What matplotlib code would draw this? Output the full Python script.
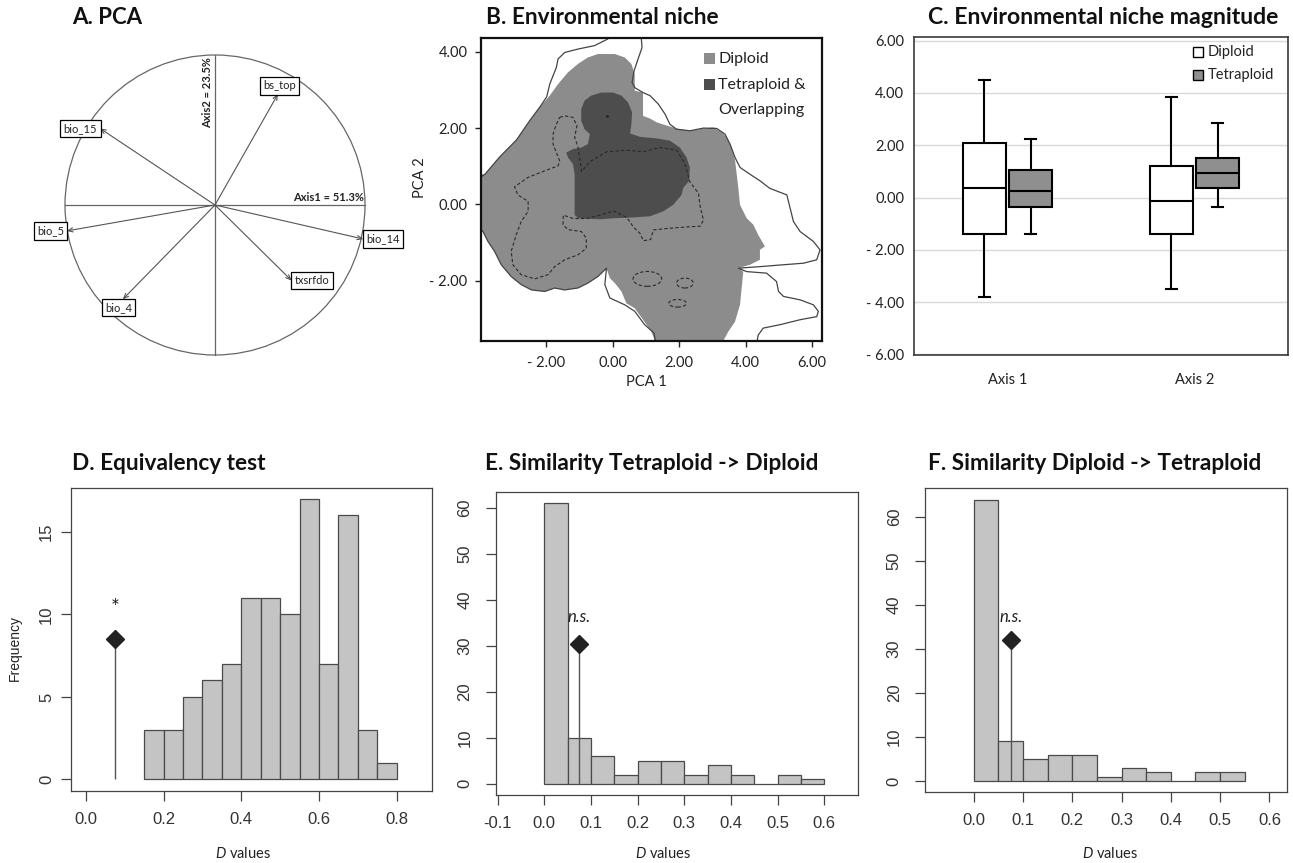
import matplotlib
matplotlib.use("Agg")
import matplotlib.pyplot as plt
from matplotlib.patches import Circle, Polygon, Ellipse, Rectangle
from matplotlib.ticker import FuncFormatter

plt.rcParams['font.family'] = ['Lato', 'DejaVu Sans']
plt.rcParams['mathtext.fontset'] = 'custom'
plt.rcParams['mathtext.it'] = 'Lato:italic'
plt.rcParams['mathtext.rm'] = 'Lato'

# ------------------------------------------------------------------ data
# A. PCA loadings (correlation circle)
pca_vars = ['bs_top', 'bio_15', 'bio_5', 'bio_4', 'txsrfdo', 'bio_14']
pca_axis1 = [0.42, -0.767, -0.989, -0.615, 0.511, 0.989]
pca_axis2 = [0.74, 0.511, -0.173, -0.629, -0.504, -0.227]
axis1_text = 'Axis1 = 51.3%'
axis2_text = 'Axis2 = 23.5%'

# B. Environmental niche (PCA space)
diploid_x = [-4.40, -3.85, -3.40, -2.90, -2.49, -2.19, -1.90, -1.65, -1.35, -1.05,
             -0.75, -0.45, 0.06, 0.36, 0.56, 0.66, 0.66, 0.91, 0.91, 1.12,
             1.32, 1.57, 1.92, 2.32, 2.73, 3.03, 3.28, 3.43, 3.58, 3.68,
             3.78, 3.83, 4.03, 4.23, 4.38, 4.58, 4.43, 4.43, 4.13, 3.78,
             3.93, 3.88, 3.83, 3.68, 3.48, 3.23, 1.24, 1.24, 1.16, 0.91,
             0.66, 0.41, 0.26, 0.06, -0.09, -0.19, -0.45, -0.75, -1.05, -1.45,
             -1.75, -2.05, -2.45, -2.76, -3.06, -3.36, -3.56, -3.76, -3.91, -4.40]
diploid_y = [0.79, 0.79, 1.25, 1.69, 2.21, 2.56, 2.85, 3.15, 3.46, 3.68,
             3.85, 3.94, 3.94, 3.85, 3.68, 3.41, 2.98, 2.93, 2.32, 2.25,
             2.15, 2.08, 1.99, 1.93, 1.99, 2.02, 1.89, 1.76, 1.49, 1.16,
             0.43, -0.01, -0.36, -0.53, -0.80, -1.10, -1.19, -1.45, -1.58, -1.67,
             -1.76, -2.19, -2.63, -3.07, -3.33, -3.73, -3.73, -3.51, -3.33, -3.02,
             -2.72, -2.59, -2.28, -2.06, -1.93, -1.67, -1.89, -2.06, -2.19, -2.24,
             -2.19, -2.28, -2.24, -2.10, -1.89, -1.58, -1.23, -0.97, -0.71, -0.71]
tetra_x = [-0.95, -0.85, -0.65, -0.35, 0.01, 0.26, 0.46, 0.58, 0.56, 0.52,
           0.82, 1.32, 1.72, 2.02, 2.22, 2.32, 2.30, 2.12, 2.07, 1.82,
           1.52, 1.12, 0.62, 0.06, -0.39, -1.04, -1.15, -1.15, -1.20, -1.35,
           -1.40, -1.20, -0.95, -0.75, -0.69, -0.85, -0.95]
tetra_y = [2.50, 2.72, 2.85, 2.93, 2.93, 2.85, 2.67, 2.41, 2.10, 1.86,
           1.77, 1.73, 1.67, 1.49, 1.23, 0.97, 0.62, 0.43, 0.25, -0.01,
           -0.18, -0.31, -0.34, -0.36, -0.39, -0.36, -0.28, 0.79, 1.06, 1.23,
           1.36, 1.45, 1.49, 1.58, 1.84, 1.97, 2.19]
contour_x = [-1.60, -1.45, -1.20, -1.08, -1.15, -1.05, -0.99, -0.94, -0.69, -0.18,
             0.42, 0.92, 1.42, 1.92, 2.17, 2.32, 2.58, 2.63, 2.73, 2.63,
             2.22, 1.62, 1.22, 1.14, 0.92, 0.82, 0.62, 0.42, 0.02, -0.39,
             -0.79, -1.19, -1.49, -1.50, -1.35, -0.95, -0.80, -0.80, -1.05, -1.45,
             -1.75, -1.95, -2.35, -2.76, -3.01, -3.06, -2.91, -2.76, -2.55, -2.55,
             -2.86, -2.96, -2.55, -2.05, -1.65, -1.60, -1.80, -1.80, -1.70, -1.60]
contour_y = [2.28, 2.32, 2.28, 2.06, 1.76, 1.51, 1.16, 0.86, 1.12, 1.38,
             1.42, 1.38, 1.49, 1.42, 1.07, 0.59, 0.29, -0.06, -0.41, -0.57,
             -0.59, -0.63, -0.67, -0.92, -0.95, -0.76, -0.59, -0.34, -0.17, -0.28,
             -0.37, -0.37, -0.28, -0.53, -0.66, -0.71, -0.88, -1.15, -1.32, -1.45,
             -1.63, -1.84, -1.95, -1.84, -1.58, -1.23, -0.80, -0.45, -0.18, 0.08,
             0.25, 0.46, 0.71, 0.88, 1.01, 1.14, 1.58, 1.84, 2.10, 2.28]
small_contour_x = [1.04, 2.17, 1.95]
small_contour_y = [-1.95, -2.06, -2.59]
small_contour_w = [0.86, 0.50, 0.53]
small_contour_h = [0.39, 0.26, 0.20]
peak_x, peak_y = [-0.19], [2.32]
outline_a_x = [1.32, 1.24, 0.96, 0.66, 0.36, -0.09, -0.24, -0.19, -0.45, -0.75,
               -1.05, -1.45, -1.75, -2.05, -2.45, -2.76, -3.06, -3.36, -3.56, -3.76,
               -3.91, -4.40, -4.40, -3.85, -3.40, -2.90, -2.49, -2.19, -1.99, -1.90,
               -1.70, -1.65, -1.45, -1.05, -0.55, -0.16, 0.12]
outline_a_y = [-3.73, -3.37, -3.15, -2.80, -2.63, -2.45, -2.10, -1.67, -1.89, -2.06,
               -2.19, -2.24, -2.19, -2.28, -2.24, -2.10, -1.89, -1.58, -1.23, -0.97,
               -0.71, -0.24, 0.46, 0.79, 1.25, 1.69, 2.21, 2.56, 2.82, 3.15,
               3.59, 3.81, 3.98, 4.07, 4.16, 4.33, 4.57]
outline_b_x = [0.86, 0.86, 0.88, 0.76, 0.64, 0.58, 0.66, 0.91, 1.12, 1.37,
               1.57, 1.72, 1.92, 2.32, 2.73, 3.13, 3.38, 3.53, 3.68, 3.83,
               4.13, 4.43, 4.73, 5.24, 5.34, 5.44, 5.64, 6.04, 6.24, 6.14,
               5.74, 5.14, 4.43, 3.78, 4.03, 4.63, 4.93, 4.99, 5.14, 5.64,
               6.04, 6.19, 6.14, 5.64, 5.04, 4.53, 4.38, 4.31]
outline_b_y = [4.57, 4.33, 4.11, 3.81, 3.50, 3.20, 3.06, 2.93, 2.85, 2.63,
               2.37, 2.10, 1.97, 1.93, 2.00, 1.99, 1.84, 1.58, 1.23, 0.97,
               0.79, 0.62, 0.42, 0.25, -0.10, -0.45, -0.71, -0.97, -1.19, -1.45,
               -1.54, -1.58, -1.63, -1.67, -1.76, -1.80, -2.02, -2.28, -2.41, -2.50,
               -2.63, -2.80, -2.94, -3.02, -3.15, -3.24, -3.42, -3.73]
niche_xticks = [-2, 0, 2, 4, 6]
niche_yticks = [-2, 0, 2, 4]

# C. Niche magnitude (box plots)
mag_groups = ['Axis 1', 'Axis 2']
dip_low = [-3.8, -3.5]
dip_q1 = [-1.4, -1.4]
dip_med = [0.35, -0.12]
dip_q3 = [2.1, 1.2]
dip_high = [4.5, 3.85]
tet_low = [-1.4, -0.35]
tet_q1 = [-0.35, 0.35]
tet_med = [0.25, 0.95]
tet_q3 = [1.05, 1.5]
tet_high = [2.25, 2.85]
mag_yticks = [-6, -4, -2, 0, 2, 4, 6]

# D. Equivalency test
d_bin_left = [0.15, 0.20, 0.25, 0.30, 0.35, 0.40, 0.45, 0.50, 0.55, 0.60, 0.65, 0.70, 0.75]
d_counts = [3, 3, 5, 6, 7, 11, 11, 10, 17, 7, 16, 3, 1]
d_obs, d_obs_h = 0.075, 8.5
# E. Similarity tetraploid -> diploid
e_bin_left = [0.00, 0.05, 0.10, 0.15, 0.20, 0.25, 0.30, 0.35, 0.40, 0.45, 0.50, 0.55]
e_counts = [61, 10, 6, 2, 5, 5, 2, 4, 2, 0, 2, 1]
e_obs, e_obs_h = 0.075, 30.3
# F. Similarity diploid -> tetraploid
f_bin_left = [0.00, 0.05, 0.10, 0.15, 0.20, 0.25, 0.30, 0.35, 0.40, 0.45, 0.50]
f_counts = [64, 9, 5, 6, 6, 1, 3, 2, 0, 2, 2]
f_obs, f_obs_h = 0.075, 32.0
bin_width = 0.05

# ------------------------------------------------------------------ figure
W, H = 1293, 863
fig = plt.figure(figsize=(W / 100, H / 100), dpi=100)


def px_axes(l, t, r, b):
    return fig.add_axes([l / W, 1 - b / H, (r - l) / W, (b - t) / H])


def ftext(x, y, s, **kw):
    fig.text(x / W, 1 - y / H, s, **kw)


for x, y, s, fs in [(72, 18, 'A. PCA', 16), (486, 18, 'B. Environmental niche', 16.3),
                    (928, 18, 'C. Environmental niche magnitude', 16.6),
                    (72, 463, 'D. Equivalency test', 16.3),
                    (485, 463, 'E. Similarity Tetraploid -> Diploid', 16.3),
                    (928, 463, 'F. Similarity Diploid -> Tetraploid', 16.3)]:
    ftext(x, y, s, ha='left', va='center', fontsize=fs, fontweight='bold', color='#111111')

# ---------------- A
axA = px_axes(20, 10, 410, 400)
axA.set_xlim(-1.3, 1.3)
axA.set_ylim(-1.3, 1.3)
axA.axis('off')
lc = '#666666'
axA.add_patch(Circle((0, 0), 1, fill=False, ec=lc, lw=0.9))
axA.plot([-1, 1], [0, 0], color=lc, lw=0.9)
axA.plot([0, 0], [-1, 1], color=lc, lw=0.9)
label_align = [('center', 'bottom', 1, 2), ('right', 'center', -2, 0), ('right', 'center', -2, 0),
               ('center', 'top', -3, -2), ('left', 'center', 2, 0), ('left', 'center', 2, 0)]
for name, a1, a2, (ha, va, dx, dy) in zip(pca_vars, pca_axis1, pca_axis2, label_align):
    axA.annotate('', xy=(a1, a2), xytext=(0, 0),
                 arrowprops=dict(arrowstyle='->,head_length=0.35,head_width=0.15', lw=0.8,
                                 color='#555555', shrinkA=0, shrinkB=0))
    axA.annotate(name, xy=(a1, a2), xytext=(dx, dy), textcoords='offset points',
                 ha=ha, va=va, fontsize=8, color='#222222',
                 bbox=dict(boxstyle='square,pad=0.3', fc='white', ec='black', lw=0.9))
axA.text(0.99, 0.012, axis1_text, ha='right', va='bottom', fontsize=8, fontweight='bold', color='#222222')
axA.text(-0.012, 0.985, axis2_text, ha='right', va='top', rotation=90, fontsize=8,
         fontweight='bold', color='#222222')

# ---------------- B
axB = px_axes(481.3, 38, 821.7, 340.7)
axB.set_xlim(-3.96, 6.29)
axB.set_ylim(-3.57, 4.36)
light, dark = '#8c8c8c', '#4d4d4d'
axB.add_patch(Polygon(list(zip(diploid_x, diploid_y)), closed=True, fc=light, ec='none'))
axB.add_patch(Polygon(list(zip(tetra_x, tetra_y)), closed=True, fc=dark, ec='none'))
axB.plot(outline_a_x, outline_a_y, color='#444444', lw=0.9)
axB.plot(outline_b_x, outline_b_y, color='#444444', lw=0.9)
axB.plot(contour_x, contour_y, color='#2a2a2a', lw=0.8, ls=(0, (3, 2)))
for cx, cy, w, h in zip(small_contour_x, small_contour_y, small_contour_w, small_contour_h):
    axB.add_patch(Ellipse((cx, cy), w, h, fill=False, ec='#2a2a2a', lw=0.8, ls=(0, (3, 2))))
axB.plot(peak_x, peak_y, marker='.', ms=2, color='#222222', ls='none')
fmt = FuncFormatter(lambda v, p: ('- %.2f' % abs(v)) if v < 0 else '%.2f' % v)
axB.set_xticks(niche_xticks)
axB.set_yticks(niche_yticks)
axB.xaxis.set_major_formatter(fmt)
axB.yaxis.set_major_formatter(fmt)
axB.tick_params(direction='out', length=4, width=1, labelsize=10.5, colors='#222222')
axB.tick_params(axis='x', pad=7)
axB.tick_params(axis='y', pad=6)
for s in axB.spines.values():
    s.set_color('#111111')
    s.set_linewidth(1.6)
axB.text(0.486, -0.135, 'PCA 1', transform=axB.transAxes, ha='center', va='center', fontsize=10.5, color='#222222')
axB.text(-0.18, 0.5375, 'PCA 2', transform=axB.transAxes, ha='center', va='center', rotation=90,
         fontsize=10.5, color='#222222')
for yy, col, txt in [(0.931, light, 'Diploid'), (0.846, dark, 'Tetraploid &')]:
    axB.add_patch(Rectangle((0.654, yy - 0.018), 0.032, 0.036, transform=axB.transAxes, fc=col, ec='none'))
    axB.text(0.696, yy, txt, transform=axB.transAxes, ha='left', va='center', fontsize=11.5, color='#222222')
axB.text(0.696, 0.762, 'Overlapping', transform=axB.transAxes, ha='left', va='center', fontsize=11.5, color='#222222')

# ---------------- C
axC = px_axes(914, 37.3, 1288, 355)
group_pos = [0.5, 1.5]
offset, bw = 0.125, 0.23
stats_d = [dict(med=m, q1=a, q3=b, whislo=lo, whishi=hi, fliers=[])
           for m, a, b, lo, hi in zip(dip_med, dip_q1, dip_q3, dip_low, dip_high)]
stats_t = [dict(med=m, q1=a, q3=b, whislo=lo, whishi=hi, fliers=[])
           for m, a, b, lo, hi in zip(tet_med, tet_q1, tet_q3, tet_low, tet_high)]
common = dict(widths=bw, capwidths=0.06, patch_artist=True, showfliers=False,
              medianprops=dict(color='black', lw=1.5),
              whiskerprops=dict(color='black', lw=1.5),
              capprops=dict(color='black', lw=1.5))
axC.bxp(stats_d, positions=[g - offset for g in group_pos],
        boxprops=dict(facecolor='white', edgecolor='black', lw=1.5), **common)
axC.bxp(stats_t, positions=[g + offset for g in group_pos],
        boxprops=dict(facecolor='#8f8f8f', edgecolor='black', lw=1.5), **common)
axC.set_xlim(0, 2)
axC.set_ylim(-6.02, 6.13)
axC.set_xticks(group_pos)
axC.set_xticklabels(mag_groups)
axC.set_yticks(mag_yticks)
axC.yaxis.set_major_formatter(fmt)
axC.set_axisbelow(True)
axC.yaxis.grid(True, color='#d9d9d9', lw=1)
axC.tick_params(length=0, labelsize=10.5, colors='#222222')
axC.tick_params(axis='x', pad=13)
axC.tick_params(axis='y', pad=7)
for s in axC.spines.values():
    s.set_color('#3a3a3a')
    s.set_linewidth(1.2)
for yy, col, txt in [(0.954, 'white', 'Diploid'), (0.881, '#8f8f8f', 'Tetraploid')]:
    axC.add_patch(Rectangle((0.745, yy - 0.016), 0.027, 0.032, transform=axC.transAxes, fc=col,
                            ec='black', lw=1))
    axC.text(0.785, yy, txt, transform=axC.transAxes, ha='left', va='center', fontsize=10.5, color='#222222')


# ---------------- D, E, F (R-style histograms)
def r_hist(box, xlim, ylim, xticks, yticks, lefts, counts, obs, obs_h, sig, sig_h, sig_style, sig_fs,
           ypad, xlab_x):
    ax = px_axes(*box)
    ax.bar(lefts, counts, width=bin_width, align='edge', color='#c4c4c4', edgecolor='#4a4a4a', lw=0.9)
    ax.vlines(obs, 0, obs_h, color='#555555', lw=1)
    ax.plot([obs], [obs_h], marker='D', ms=9.5, color='#222222', ls='none')
    ax.text(obs, sig_h, sig, ha='center', va='center', fontsize=sig_fs, fontstyle=sig_style, color='#222222')
    ax.set_xlim(*xlim)
    ax.set_ylim(*ylim)
    ax.set_xticks(xticks)
    ax.set_xticklabels(['%.1f' % t for t in xticks], fontfamily='Liberation Sans')
    ax.set_yticks(yticks)
    ax.set_yticklabels([str(t) for t in yticks], fontfamily='Liberation Sans', rotation=90, va='center')
    ax.tick_params(direction='out', length=7, width=0.9, color='#444444', labelsize=12, labelcolor='#333333')
    ax.tick_params(axis='x', pad=8)
    ax.tick_params(axis='y', pad=ypad)
    for s in ax.spines.values():
        s.set_color('#444444')
        s.set_linewidth(0.9)
    ftext(xlab_x, 853, '$D$ values', ha='center', va='center', fontsize=10.5, color='#222222')
    return ax


axD = r_hist((70.7, 487.7, 431.7, 790.7), (-0.039, 0.89), (-0.68, 17.68), [0.0, 0.2, 0.4, 0.6, 0.8],
             [0, 5, 10, 15], d_bin_left, d_counts, d_obs, d_obs_h, '*', 10.4, 'normal', 15, 5, 243)
ftext(15, 648, 'Frequency', ha='center', va='center', rotation=90, fontsize=10,
      fontfamily='Liberation Sans', color='#222222')
axE = r_hist((496, 491.7, 857.7, 795), (-0.1035, 0.6715), (-2.44, 63.44),
             [-0.1, 0.0, 0.1, 0.2, 0.3, 0.4, 0.5, 0.6], [0, 10, 20, 30, 40, 50, 60],
             e_bin_left, e_counts, e_obs, e_obs_h, 'n.s.', 36.2, 'italic', 12, 10, 663)
axF = r_hist((925.3, 488.3, 1286.7, 792.3), (-0.098, 0.635), (-2.56, 66.56),
             [0.0, 0.1, 0.2, 0.3, 0.4, 0.5, 0.6], [0, 10, 20, 30, 40, 50, 60],
             f_bin_left, f_counts, f_obs, f_obs_h, 'n.s.', 37.3, 'italic', 12, 10, 1110)

fig.savefig('out.png', dpi=100)
